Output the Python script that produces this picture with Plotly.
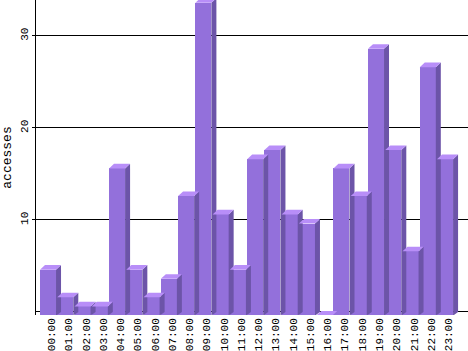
import plotly.graph_objects as go

hours = ["%02d:00" % h for h in range(24)]
accesses = [5, 2, 1, 1, 16, 5, 2, 4, 13, 34, 11, 5, 17, 18, 11, 10, 0, 16, 13, 29, 18, 7, 27, 17]
y_ticks = [10, 20, 30]

FRONT = "#9370DB"
SIDE = "#6c54a8"
TOP = "#b88ef8"
W = 0.93   # front face width (category units)
DX = 0.29  # depth offset x
DY = 0.40  # depth offset y
LIFT = 0.1  # back edge slightly above the value line

fig = go.Figure()

# front faces
xs = list(range(len(hours)))
fig.add_trace(go.Bar(
    x=xs, y=accesses, base=[-DY] * len(xs), width=W,
    marker=dict(color=FRONT, line=dict(width=0)), hoverinfo="skip",
))

# side and top faces as polygons derived from data
for i, v in enumerate(accesses):
    x0 = i - W / 2
    x1 = i + W / 2
    yt = v - DY
    yb = v + LIFT
    if v > 0:
        fig.add_trace(go.Scatter(
            x=[x1, x1, x1 + DX, x1 + DX, x1],
            y=[-DY, yt, yb, 0, -DY],
            fill="toself", fillcolor=SIDE, mode="none",
            hoverinfo="skip",
        ))
    fig.add_trace(go.Scatter(
        x=[x0, x1, x1 + DX, x0 + DX, x0],
        y=[yt, yt, yb, yb, yt],
        fill="toself", fillcolor=TOP, mode="none",
        hoverinfo="skip",
    ))

font = dict(family="Liberation Mono, monospace", size=11, color="black")

fig.update_layout(
    width=468, height=351,
    margin=dict(l=36, r=0, t=0, b=36),
    paper_bgcolor="white", plot_bgcolor="white",
    showlegend=False,
    bargap=0,
    font=font,
    xaxis=dict(
        range=[-0.695, 24.33],
        tickmode="array", tickvals=[i + 0.2 for i in xs], ticktext=hours,
        tickangle=-90, showgrid=False, zeroline=False, showline=False,
        ticks="", tickfont=font, fixedrange=True,
    ),
    yaxis=dict(
        range=[-0.33, 33.9],
        tickmode="array", tickvals=y_ticks, ticktext=[str(t) for t in y_ticks],
        tickangle=-90,
        showgrid=True, gridcolor="black", gridwidth=1,
        zeroline=True, zerolinecolor="black", zerolinewidth=1,
        showline=True, linecolor="black", linewidth=1,
        ticks="outside", ticklen=3, tickcolor="black",
        tickfont=font,
        title=dict(text="accesses", font=dict(family="Liberation Mono, monospace", size=13), standoff=6),
        fixedrange=True,
    ),
)

fig.write_html("out.html")
